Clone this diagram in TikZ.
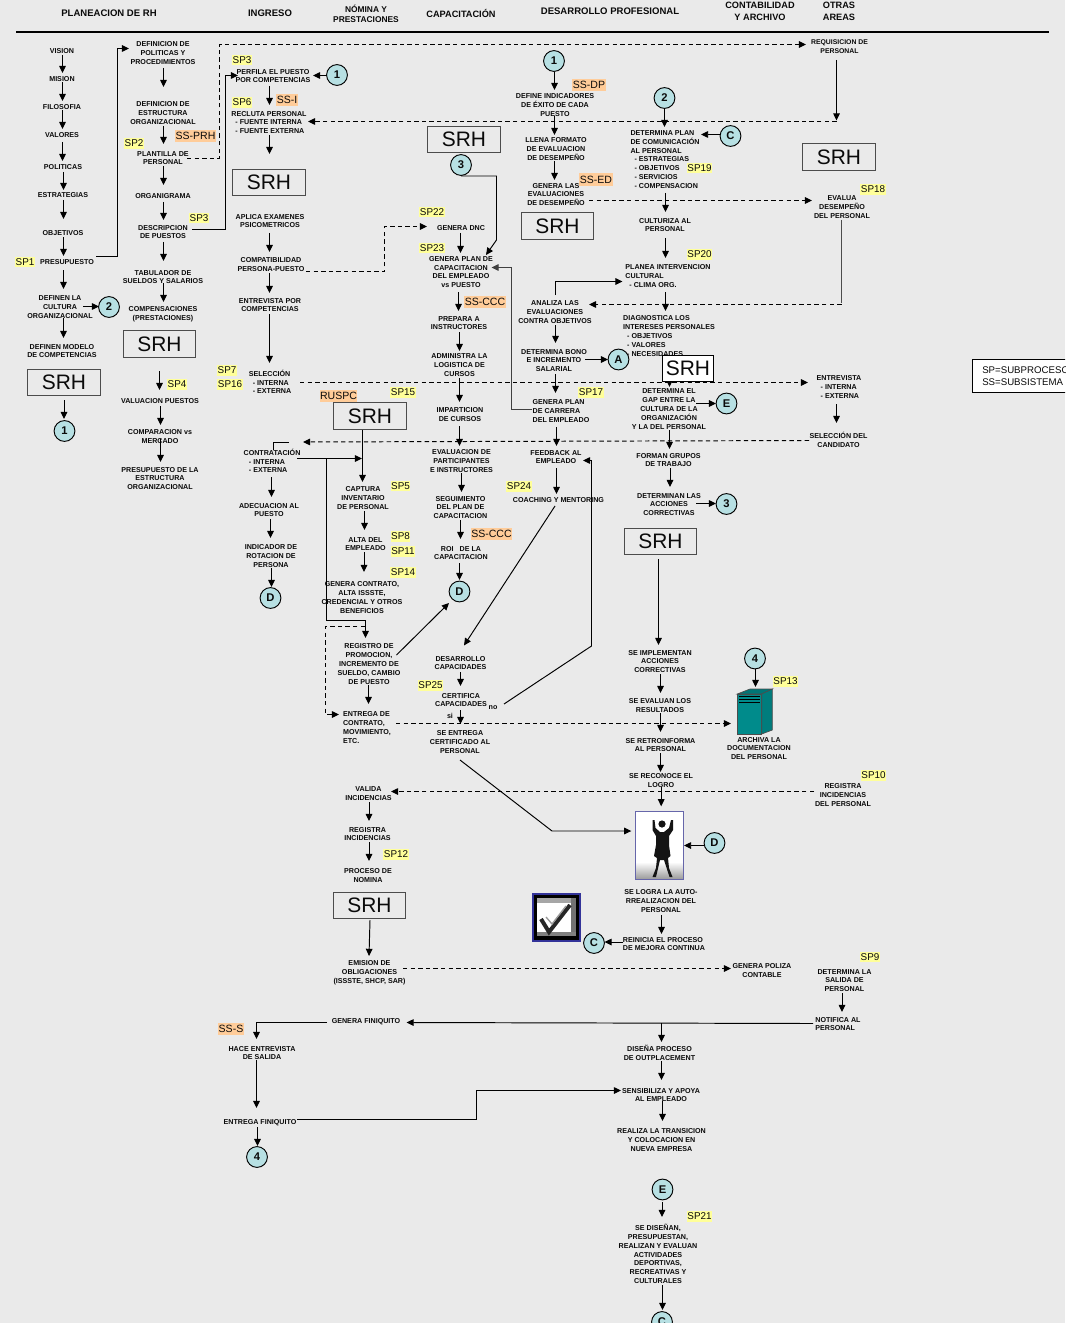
\documentclass[tikz,border=0pt]{standalone}
\usepackage{fontspec}
\setmainfont{Liberation Sans}
\usetikzlibrary{arrows.meta}
\definecolor{bgc}{HTML}{EAEAEA}
\definecolor{yel}{HTML}{FFFF99}
\definecolor{ora}{HTML}{FFCC99}
\definecolor{circ}{HTML}{B7E0E3}
\definecolor{teal2}{HTML}{008B8B}
\definecolor{ink}{HTML}{0A0A0A}
\definecolor{picb}{HTML}{6666AA}
\definecolor{chkb}{HTML}{333399}
\tikzset{
  tx/.style={font=\bfseries\fontsize{5.35}{6.6}\selectfont,align=center,inner sep=0pt,text=ink},
  txl/.style={tx,align=left},
  hd/.style={font=\bfseries\fontsize{7.15}{9}\selectfont,align=center,inner sep=0pt,text=ink},
  hds/.style={font=\bfseries\fontsize{6.3}{7.5}\selectfont,align=center,inner sep=0pt,text=ink},
  yl/.style={fill=yel,font=\fontsize{7.4}{8}\selectfont,inner xsep=0.4pt,inner ysep=0pt,minimum height=8.2pt,text=ink},
  og/.style={fill=ora,font=\fontsize{7.9}{8}\selectfont,inner xsep=0.4pt,inner ysep=0pt,minimum height=9.6pt,text=ink},
  srhbox/.style={draw=black!70,line width=.7pt,font=\fontsize{15.7}{16}\selectfont,minimum width=54.4pt,minimum height=20pt,inner sep=0pt,text=ink},
  cir/.style={circle,draw=black,fill=circ,line width=.7pt,minimum size=15.6pt,inner sep=0pt,font=\bfseries\fontsize{8.4}{9}\selectfont,text=ink},
  ln/.style={line width=.72pt,draw=black},
  ar/.style={ln,-{Triangle[length=5.4pt,width=5pt]}},
  dln/.style={ln,dash pattern=on 3.3pt off 2.4pt},
  dar/.style={dln,-{Triangle[length=5.4pt,width=5pt]}},
}
% vertical arrow from node #2 towards node #3; #1 = x offset, #4/#5 = y offsets from their centres
\newcommand\vv[5][0]{\draw[ar] ([shift={(#1,#4)}]#2.center) -- ([shift={(#1,#5)}]#2.center |- #3.center);}
% horizontal arrow from node #2 towards node #3; #1 = y offset, #4/#5 = x offsets from their centres
\newcommand\hh[5][0]{\draw[ar] ([shift={(#4,#1)}]#2.center) -- ([shift={(#5,#1)}]#2.center -| #3.center);}
\begin{document}
\begin{tikzpicture}[x=0.75pt,y=-0.75pt]
\useasboundingbox (0,0) rectangle (1065,1323);
\clip (0,0) rectangle (1065,1323);
\fill[bgc] (0,0) rectangle (1065,1323);
% headers
\node[hd] (h1) at (109,13.5) {PLANEACION DE RH};
\node[hd] (h2) at (270,13.5) {INGRESO};
\node[hds] (h3) at (366,14) {NÓMINA Y\\PRESTACIONES};
\node[hd,font=\bfseries\fontsize{6.9}{9}\selectfont] (h4) at (461,13.5) {CAPACITACIÓN};
\node[hd] (h5) at (610,11.5) {DESARROLLO PROFESIONAL};
\node[hd,font=\bfseries\fontsize{6.9}{9}\selectfont] (h6) at (760,11.5) {CONTABILIDAD\\Y ARCHIVO};
\node[hd,font=\bfseries\fontsize{6.9}{9}\selectfont] (h7) at (839,11.5) {OTRAS\\AREAS};
\draw[line width=1.1pt] (16,32) -- (1049,32);
% column 1
\node[tx] (vision) at (62,51) {VISION};
\node[tx] (mision) at (62,79) {MISION};
\node[tx] (filosofia) at (62,107) {FILOSOFIA};
\node[tx] (valores) at (62,135) {VALORES};
\node[tx] (politicas) at (63,167) {POLITICAS};
\node[tx] (estrategias) at (63,195) {ESTRATEGIAS};
\node[tx] (objetivos) at (63,233) {OBJETIVOS};
\node[tx] (presup) at (67,262) {PRESUPUESTO};
\node[tx] (cultura) at (60,307) {DEFINEN LA\\CULTURA\\ORGANIZACIONAL};
\node[tx] (modelo) at (62,351) {DEFINEN MODELO\\DE COMPETENCIAS};
\node[srhbox] (srh1) at (64,382.5) {SRH};
\node[cir] (c1a) at (64.5,431) {1};
\node[cir] (c2l) at (109,307) {2};
\vv[.5]{vision}{mision}{4}{-6}
\vv[.5]{mision}{filosofia}{3}{-6}
\vv[.5]{filosofia}{valores}{3}{-6}
\vv[.5]{valores}{politicas}{7}{-6}
\vv[.5]{politicas}{estrategias}{5}{-5}
\vv[.5]{estrategias}{objetivos}{5}{-14}
\vv[.5]{objetivos}{presup}{4}{-6}
\vv[-3.5]{presup}{cultura}{8}{-18}
\vv[3.5]{cultura}{modelo}{11}{-13}
\vv{srh1}{c1a}{17.5}{-12}
\hh[-.5]{cultura}{c2l}{23}{-10}
% column 2
\node[tx] (pol) at (163,53) {DEFINICION DE\\POLITICAS Y\\PROCEDIMIENTOS};
\node[tx] (estr) at (163,113) {DEFINICION DE\\ESTRUCTURA\\ORGANIZACIONAL};
\node[tx] (plant) at (163,158) {PLANTILLA DE\\PERSONAL};
\node[tx] (organ) at (163,196) {ORGANIGRAMA};
\node[tx] (desc) at (163,232) {DESCRIPCION\\DE PUESTOS};
\node[tx] (tab) at (163,277) {TABULADOR DE\\SUELDOS Y SALARIOS};
\node[tx] (comp) at (163,314) {COMPENSACIONES\\(PRESTACIONES)};
\node[srhbox] (srh2) at (159.5,344) {SRH};
\node[tx] (val) at (160,401) {VALUACION PUESTOS};
\node[tx] (compar) at (160,436.5) {COMPARACION vs\\MERCADO};
\node[tx] (presest) at (160,478.5) {PRESUPUESTO DE LA\\ESTRUCTURA\\ORGANIZACIONAL};
\vv[.5]{pol}{estr}{15}{-26}
\vv[.5]{estr}{plant}{13}{-14}
\vv[.5]{plant}{organ}{8}{-11}
\vv[.5]{organ}{desc}{6}{-12}
\vv[.5]{desc}{tab}{10}{-16}
\vv[.5]{tab}{comp}{6}{-12}
\vv{srh2}{val}{27}{-11}
\vv[.5]{val}{compar}{5}{-11.5}
\vv[.5]{compar}{presest}{2.5}{-16.5}
\draw[ar] ([shift={(29,-5.5)}]presup.center) -- (117.5,256.5) -- (117.5,48.5) -- ([shift={(-34,-4.5)}]pol.center);
% column 3
\node[tx] (perfila) at (273,76) {PERFILA EL PUESTO\\POR COMPETENCIAS};
\node[cir] (c1b) at (337,75) {1};
\node[txl] (recluta) at (269,122.5) {RECLUTA PERSONAL\\\hspace*{3pt}- FUENTE INTERNA\\\hspace*{3pt}- FUENTE EXTERNA};
\node[srhbox] (srh3) at (269,182.5) {SRH};
\node[tx] (aplica) at (270,221) {APLICA EXAMENES\\PSICOMETRICOS};
\node[tx] (compat) at (271,264.5) {COMPATIBILIDAD\\PERSONA-PUESTO};
\node[tx] (entrev) at (270,305) {ENTREVISTA POR\\COMPETENCIAS};
\node[txl] (sel) at (270,382) {SELECCIÓN\\\hspace*{3pt}- INTERNA\\\hspace*{3pt}- EXTERNA};
\node[txl] (contr) at (272,461) {CONTRATACIÓN\\\hspace*{4pt}- INTERNA\\\hspace*{4pt}- EXTERNA};
\node[tx] (adec) at (269,510) {ADECUACION AL\\PUESTO};
\node[tx] (indic) at (271,556) {INDICADOR DE\\ROTACION DE\\PERSONA};
\node[cir] (d2) at (270.5,598) {D};
\hh[.5]{c1b}{perfila}{-10.5}{40}
\draw[ar] ([shift={(29,-2.5)}]desc.center) -- (225.5,229.5) -- (225.5,75.5) -- ([shift={(-35,-.5)}]perfila.center);
\vv[-3.5]{perfila}{recluta}{10}{-17.5}
\vv[.5]{recluta}{srh3}{12.5}{-28.5}
\vv[-.5]{aplica}{compat}{12}{-12.5}
\vv[-1.5]{compat}{entrev}{8.5}{-12}
\vv[-.5]{entrev}{sel}{9}{-19}
\vv[-.5]{contr}{adec}{16}{-13}
\vv[1.5]{adec}{indic}{9}{-18}
\vv[.5]{indic}{d2}{12}{-11}
% column 4
\node[srhbox] (srh8) at (464,139.5) {SRH};
\node[cir] (c3a) at (461,165) {3};
\node[tx] (gdnc) at (461,228.5) {GENERA DNC};
\node[tx] (gplan) at (461,272) {GENERA PLAN DE\\CAPACITACION\\DEL EMPLEADO\\vs PUESTO};
\node[tx] (prep) at (459,323) {PREPARA A\\INSTRUCTORES};
\node[tx] (admin) at (459.5,365) {ADMINISTRA LA\\LOGISTICA DE\\CURSOS};
\node[tx] (impart) at (460,414.5) {IMPARTICION\\DE CURSOS};
\node[tx] (evalp) at (461.5,461) {EVALUACION DE\\PARTICIPANTES\\E INSTRUCTORES};
\node[tx] (seg) at (460.5,507.5) {SEGUIMIENTO\\DEL PLAN DE\\CAPACITACION};
\node[tx] (roi) at (461,553) {ROI\hspace{3pt} DE LA\\CAPACITACION};
\node[cir] (d3) at (459.5,591.5) {D};
\draw[dar] ([shift={(35,7)}]compat.center) -- (384.5,271.5) -- (384.5,226.5) -- ([shift={(-34,-2)}]gdnc.center);
\vv[-.5]{gdnc}{gplan}{4.5}{-19}
\vv[-2.5]{gplan}{prep}{20}{-12}
\vv[.5]{prep}{admin}{9}{-14}
\vv{admin}{impart}{13}{-12.5}
\vv[-.5]{impart}{evalp}{11.5}{-15}
\vv{evalp}{seg}{12}{-15.5}
\vv{seg}{roi}{12.5}{-14}
\vv[-1.5]{roi}{d3}{10}{-11.5}
\draw[ar] ([shift={(0,11)}]c3a.center) -- (496.5,176) -- (496.5,240) -- ([shift={(25,-17)}]gplan.center);
% ruspc block
\node[srhbox] (srh4) at (370,416) {SRH};
\node[tx] (capt) at (363,498) {CAPTURA\\INVENTARIO\\DE PERSONAL};
\node[tx] (alta) at (365.5,544) {ALTA DEL\\EMPLEADO};
\node[tx] (gencon) at (362,597.5) {GENERA CONTRATO,\\ALTA ISSSTE,\\CREDENCIAL Y OTROS\\BENEFICIOS};
\node[tx] (reg) at (369,664) {REGISTRO DE\\PROMOCION,\\INCREMENTO DE\\SUELDO, CAMBIO\\DE PUESTO};
\node[txl] (entrega) at (367,727.5) {ENTREGA DE\\CONTRATO,\\MOVIMIENTO,\\ETC.};
\vv[-7.5]{srh4}{capt}{14}{-16}
\vv[1.5]{capt}{alta}{13}{-14}
\vv[-1.5]{alta}{gencon}{8}{-25.5}
\vv[-.5]{reg}{entrega}{21}{-23.5}
\draw[ar] ([shift={(25,-2.5)}]contr.center) -- ([shift={(-1,-39.5)}]capt.center);
\coordinate (cb) at (326.5,458.5);
\draw[ar] (cb) -- (326.5,620.5) -- (365.5,620.5) -- ([shift={(-3.5,-26)}]reg.center);
\draw[dar] ([shift={(-4,-37.5)}]reg.center) -- (325.5,626.5) -- (325.5,714.5) -- ([shift={(-28,-13)}]entrega.center);
\draw[ar] ([shift={(27.5,-9)}]reg.center) -- ([shift={(-10.5,11.5)}]d3.center);
% desarrollo
\node[cir] (c1c) at (554,61) {1};
\node[tx] (defind) at (555,105) {DEFINE INDICADORES\\DE ÉXITO DE CADA\\PUESTO};
\node[tx] (llena) at (556,149) {LLENA FORMATO\\DE EVALUACION\\DE DESEMPEÑO};
\node[tx] (genev) at (556,194.5) {GENERA LAS\\EVALUACIONES\\DE DESEMPEÑO};
\node[srhbox] (srh9) at (557.5,226) {SRH};
\node[tx] (analiza) at (555,312) {ANALIZA LAS\\EVALUACIONES\\CONTRA OBJETIVOS};
\node[tx] (bono) at (554,360.5) {DETERMINA BONO\\E INCREMENTO\\SALARIAL};
\node[cir] (cA) at (618.5,359.5) {A};
\node[txl] (gencar) at (561,411) {GENERA PLAN\\DE CARRERA\\DEL EMPLEADO};
\node[tx] (feed) at (556,457) {FEEDBACK AL\\EMPLEADO};
\node[tx] (coach) at (558.5,500.5) {COACHING Y MENTORING};
\node[tx] (desar) at (460.5,663) {DESARROLLO\\CAPACIDADES};
\node[tx] (cert) at (461,700) {CERTIFICA\\CAPACIDADES};
\node[tx] (no) at (493,707.5) {no};
\node[tx] (si) at (450,715.5) {si};
\node[tx] (sentrega) at (460,742) {SE ENTREGA\\CERTIFICADO AL\\PERSONAL};
\vv[.5]{c1c}{defind}{11}{-15}
\vv[-.5]{defind}{llena}{11}{-14}
\vv[-1.5]{llena}{genev}{12}{-14.5}
\vv[.5]{analiza}{bono}{13}{-17.5}
\hh[-1]{bono}{cA}{31}{-10.5}
\vv[1.5]{bono}{gencar}{13.5}{-18}
\vv[-4.5]{gencar}{feed}{16}{-11}
\vv[.5]{feed}{coach}{11}{-6.5}
\draw[ar] ([shift={(-3.5,5.5)}]coach.center) -- ([shift={(3.5,-17.5)}]desar.center);
\vv{desar}{cert}{9}{-14}
\vv[-.5]{cert}{sentrega}{10}{-18}
\draw[ar] ([shift={(11,-3.5)}]no.center) -- (591.5,646) -- (591.5,460.5) -- ([shift={(27,3.5)}]feed.center);
\draw[ar,draw=black!75] ([shift={(-29,-1.5)}]gencar.center) -- (511.5,409.5) -- (511.5,267.5) -- ([shift={(30.5,-4.5)}]gplan.center);
% right column
\node[cir] (c2) at (664.5,98) {2};
\node[txl] (detplan) at (665,159.5) {DETERMINA PLAN\\DE COMUNICACIÓN\\AL PERSONAL\\\hspace*{3pt}- ESTRATEGIAS\\\hspace*{3pt}- OBJETIVOS\\\hspace*{3pt}- SERVICIOS\\\hspace*{3pt}- COMPENSACION};
\node[cir] (cC) at (730.5,136) {C};
\node[tx] (cult) at (665,225) {CULTURIZA AL\\PERSONAL};
\node[txl] (planea) at (668,276) {PLANEA INTERVENCION\\CULTURAL\\\hspace*{3pt}- CLIMA ORG.};
\node[txl] (diag) at (669,336) {DIAGNOSTICA LOS\\INTERESES PERSONALES\\\hspace*{3pt}- OBJETIVOS\\\hspace*{3pt}- VALORES\\\hspace*{3pt}- NECESIDADES};
\node[tx] (gap) at (669,409) {DETERMINA EL\\GAP ENTRE LA\\CULTURA DE LA\\ORGANIZACIÓN\\Y LA DEL PERSONAL};
\vv[.5]{diag}{gap}{21}{-22}
\node[srhbox,fill=white,draw=black,minimum width=38pt] (srh5) at (688,368.5) {SRH};
\node[cir] (cE) at (726.5,403.5) {E};
\node[tx] (forman) at (668.5,460) {FORMAN GRUPOS\\DE TRABAJO};
\node[tx] (detacc) at (669,504.5) {DETERMINAN LAS\\ACCIONES\\CORRECTIVAS};
\node[cir] (c3b) at (726.5,504) {3};
\node[srhbox] (srh6) at (660.5,541.5) {SRH};
\node[tx] (impl) at (660,661.5) {SE IMPLEMENTAN\\ACCIONES\\CORRECTIVAS};
\node[tx] (evres) at (660,705.5) {SE EVALUAN LOS\\RESULTADOS};
\node[tx] (retro) at (660.5,745) {SE RETROINFORMA\\AL PERSONAL};
\node[tx] (recon) at (661,780.5) {SE RECONOCE EL\\LOGRO};
\node[tx] (logra) at (661,901) {SE LOGRA LA AUTO-\\RREALIZACION DEL\\PERSONAL};
\node[txl] (reinicia) at (664,944) {REINICIA EL PROCESO\\DE MEJORA CONTINUA};
\node[cir] (cC2) at (594,943) {C};
\node[cir] (cD) at (714.5,843) {D};
\node[cir] (c4a) at (755,658.5) {4};
\draw[ar] ([shift={(.5,-17)}]analiza.center) -- (555.5,281.5) -- ([shift={(-45.5,5.5)}]planea.center);
\vv{c2}{detplan}{11}{-32.5}
\hh[-1.5]{cC}{detplan}{-10.5}{36}
\vv[.5]{detplan}{cult}{33.5}{-13}
\vv[.5]{cult}{planea}{13}{-18}
\vv[-2.5]{planea}{diag}{16}{-25}
\hh[-5.5]{gap}{cE}{27}{-10.5}
\vv[.5]{gap}{forman}{21}{-11}
\vv[1.5]{forman}{detacc}{8}{-17.5}
\hh[-1]{detacc}{c3b}{27}{-10.5}
\vv[-2]{srh6}{impl}{17.5}{-16.5}
\vv[.5]{impl}{evres}{12.5}{-12.5}
\vv[.5]{evres}{retro}{7.5}{-13}
\vv{retro}{recon}{8}{-8.5}
\vv[.5]{logra}{reinicia}{14}{-10}
\hh[-2]{reinicia}{cC2}{-41}{10.5}
% picture of the figure
\node[minimum width=36.4pt,minimum height=51pt,inner sep=0pt,draw=none] (pic) at (659.3,845.3) {};
\fill[white] (635,811.3) rectangle (683.7,862);
\shade[top color=white,bottom color=black!40] (635,862) rectangle (683.7,879.3);
\fill[black!92] (662,824) circle[radius=3.6];
\fill[black!92] (652.5,820) -- (654.5,820) -- (655.5,828) -- (660,832) -- (664,832) -- (669,828) -- (671,820) -- (673,820) -- (673,830) -- (669,836) -- (669,845) -- (670.5,856) -- (668,858) -- (669,868) -- (672.5,877) -- (669.5,877) -- (664,860) -- (660,860) -- (656,877) -- (652.5,877) -- (656,868) -- (657,858) -- (654,856) -- (656,845) -- (656,836) -- (652.5,830) -- cycle;
\draw[picb,line width=.7pt] (635,811.3) rectangle (683.7,879.3);
\vv[.2]{recon}{pic}{6.5}{-39}
\hh[2.5]{cD}{pic}{-10.5}{24.7}
% server
\node[minimum width=26pt,minimum height=34pt,inner sep=0pt] (srv) at (755,711.5) {};
\fill[teal2,draw=black!70,line width=.5pt] (737.3,694) -- (761.7,694) -- (761.7,734) -- (737.3,734) -- cycle;
\fill[teal2!85!black,draw=black!70,line width=.5pt] (737.3,694) -- (750,689) -- (772.3,689) -- (761.7,694) -- cycle;
\fill[teal2!90!black,draw=black!70,line width=.5pt] (761.7,694) -- (772.3,689) -- (772.3,730) -- (761.7,734) -- cycle;
\foreach \yy in {696.5,699.5,702.5} \draw[black,line width=.9pt] (739,\yy) -- (759.5,\yy);
\vv[.5]{c4a}{srv}{10.5}{-24.5}
\node[tx] (arch) at (759,748.5) {ARCHIVA LA\\DOCUMENTACION\\DEL PERSONAL};
\node[yl] (sp13) at (785.5,681.5) {SP13};
% check icon
\node[minimum width=36pt,minimum height=36pt,inner sep=0pt] (chk) at (556.7,917.5) {};
\fill[chkb] (532.3,893.3) rectangle (581,941.7);
\fill[black] (534.3,895.3) rectangle (579,939.7);
\fill[white] (537,898) rectangle (576,936);
\fill[black!35] (537,898) rectangle (576,903);
\fill[black!55] (571,898) rectangle (576,936);
\fill[black!50] (537,932) rectangle (576,936);
\draw[black!85,line width=3pt] (541,919) -- (549,932) -- (570,905);
\draw[black!40,line width=1pt] (546,917) -- (552,924) -- (566,906);
% far right
\node[tx,font=\bfseries\fontsize{5.15}{6.6}\selectfont] (req) at (839.5,47) {REQUISICION DE\\PERSONAL};
\coordinate (reqc) at (836.5,121.5);
\draw[dar] ([shift={(24,.5)}]plant.center) -- (219.5,158.5) -- (219.5,44.5) -- ([shift={(-33.5,-2.5)}]req.center);
\draw[ar] ([shift={(-3,13)}]req.center) -- ([shift={(0,-1)}]reqc);
\draw[dar] (reqc) -- ([shift={(39,-1)}]recluta.center);
\node[srhbox] (srh10) at (839,157) {SRH};
\node[tx] (evalua) at (842,207) {EVALUA\\DESEMPEÑO\\DEL PERSONAL};
\draw[dar] ([shift={(33,6)}]genev.center) -- ([shift={(-30,-6.5)}]evalua.center);
\coordinate (evc) at (841.5,304.5);
\draw[ln,draw=black!70] ([shift={(-.5,13)}]evalua.center) -- ([shift={(0,-2)}]evc);
\draw[dar] (evc) -- ([shift={(34,-7.5)}]analiza.center);
\node[txl] (entr) at (839,387) {ENTREVISTA\\\hspace*{3pt}- INTERNA\\\hspace*{3pt}- EXTERNA};
\node[tx] (selc) at (838.5,439.5) {SELECCIÓN DEL\\CANDIDATO};
\vv[-2.5]{entr}{selc}{17}{-16.5}
\draw[dar] ([shift={(30,.5)}]sel.center) -- ([shift={(-31,-4.5)}]entr.center);
\draw[dar] ([shift={(-29.5,1)}]selc.center) -- ([shift={(31,-19)}]contr.center);
\draw[ln] ([shift={(16.5,-18.5)}]contr.center) -- ([shift={(1.5,-18.5)}]contr.center) -- ([shift={(1.5,-11)}]contr.center);
\draw[dar] ([shift={(29,-4)}]entrega.center) -- ([shift={(-24,12)}]srv.center);
\draw[ar] ([shift={(0,18)}]sentrega.center) -- (552,831) -- ([shift={(-28,-14.3)}]pic.center);
\node[tx] (regin) at (843,795) {REGISTRA\\INCIDENCIAS\\DEL PERSONAL};
\node[tx] (valida) at (368.5,793.5) {VALIDA\\INCIDENCIAS};
\node[tx] (regi) at (367.5,834) {REGISTRA\\INCIDENCIAS};
\node[tx] (proc) at (368,875.5) {PROCESO DE\\NOMINA};
\node[srhbox] (srh7) at (369.5,905.5) {SRH};
\node[tx] (emis) at (369.5,973) {EMISION DE\\OBLIGACIONES\\(ISSSTE, SHCP, SAR)};
\node[tx] (poliza) at (762,970.5) {GENERA POLIZA\\CONTABLE};
\node[tx] (detsal) at (844.5,980.5) {DETERMINA LA\\SALIDA DE\\PERSONAL};
\node[txl] (notif) at (838,1024) {NOTIFICA AL\\PERSONAL};
\node[tx] (genfin) at (366,1022) {GENERA FINIQUITO};
\node[tx] (hace) at (262,1053) {HACE ENTREVISTA\\DE SALIDA};
\node[tx] (entf) at (260,1122.5) {ENTREGA FINIQUITO};
\node[cir] (c4b) at (257,1157) {4};
\node[tx] (disena) at (659.5,1052.5) {DISEÑA PROCESO\\DE OUTPLACEMENT};
\node[tx] (sens) at (661,1095) {SENSIBILIZA Y APOYA\\AL EMPLEADO};
\node[tx] (realiza) at (661.5,1140) {REALIZA LA TRANSICION\\Y COLOCACION EN\\NUEVA EMPRESA};
\node[cir] (ce) at (662.5,1189.5) {E};
\node[tx] (disenan) at (658,1254) {SE DISEÑAN,\\PRESUPUESTAN,\\REALIZAN Y EVALUAN\\ACTIVIDADES\\DEPORTIVAS,\\RECREATIVAS Y\\CULTURALES};
\node[cir] (cc) at (662,1322) {C};
\draw[dar] ([shift={(-29,-3.5)}]regin.center) -- ([shift={(22.5,-2)}]valida.center);
\vv[.5]{valida}{regi}{8.5}{-13}
\vv[1.5]{regi}{proc}{8}{-14.5}
\draw[ar] ([shift={(.5,14.5)}]srh7.center) -- ([shift={(-.5,-17)}]emis.center);
\draw[dar] ([shift={(33.5,-4.5)}]emis.center) -- ([shift={(-31,-2)}]poliza.center);
\vv[-2.5]{detsal}{notif}{12.5}{-12}
\draw[ar] ([shift={(-25,-.5)}]notif.center) -- ([shift={(40.5,0.5)}]genfin.center);
\coordinate (junc) at (661.5,1023);
\draw[ar] (junc) -- ([shift={(0,-10.5)}]junc |- disena.center);
\draw[ar] ([shift={(-39,.5)}]genfin.center) -- (256.5,1022.5) -- ([shift={(-5.5,-14)}]hace.center);
\vv[-5.5]{hace}{entf}{7}{-14.5}
\vv[-2.5]{entf}{c4b}{4.5}{-11}
\draw[ar] ([shift={(37,-3)}]entf.center) -- (476.5,1119.5) -- (476.5,1090.5) -- ([shift={(-40,-4.5)}]sens.center);
\vv[2]{disena}{sens}{8.5}{-15}
\vv[1.5]{sens}{realiza}{6}{-19}
\vv[-.5]{ce}{disenan}{12.5}{-37}
\vv[4.5]{disenan}{cc}{31}{-12}
% tags
\node[yl] (sp1) at (25,262) {SP1};
\node[yl] (sp2) at (134,143.5) {SP2};
\node[og] (sspr) at (195.5,136) {SS-PRH};
\node[yl] (sp3a) at (242,60) {SP3};
\node[yl] (sp3b) at (199,218) {SP3};
\node[yl] (sp6) at (242,102.5) {SP6};
\node[og] (ssi) at (287,100) {SS-I};
\node[yl] (sp7) at (227,370.5) {SP7};
\node[yl] (sp16) at (230,384.5) {SP16};
\node[yl] (sp4) at (177,384.5) {SP4};
\node[og] (ruspc) at (338.5,396) {RUSPC};
\node[yl] (sp15) at (403,392.5) {SP15};
\node[yl] (sp22) at (432,212) {SP22};
\node[yl] (sp23) at (432,248) {SP23};
\node[og] (ssc1) at (485,302) {SS-CCC};
\node[og] (ssc2) at (491.5,534) {SS-CCC};
\node[yl] (sp5) at (400.5,486) {SP5};
\node[yl] (sp8) at (400.5,536.5) {SP8};
\node[yl] (sp11) at (403,551.5) {SP11};
\node[yl] (sp14) at (403,572.5) {SP14};
\node[og] (ssdp) at (589,85) {SS-DP};
\node[og] (ssed) at (596,179.5) {SS-ED};
\node[yl] (sp17) at (591,392.5) {SP17};
\node[yl] (sp24) at (519,486.5) {SP24};
\node[yl] (sp25) at (430.5,685.5) {SP25};
\node[yl] (sp18) at (873,189.5) {SP18};
\node[yl] (sp19) at (699.5,168) {SP19};
\node[yl] (sp20) at (699.5,254.5) {SP20};
\node[yl] (sp10) at (873.5,775.5) {SP10};
\node[yl] (sp12) at (396,854.5) {SP12};
\node[yl] (sp9) at (870,957) {SP9};
\node[og] (sss) at (231,1029) {SS-S};
\node[yl] (sp21) at (699.5,1216.5) {SP21};
% legend
\node[draw=black,fill=white,line width=.6pt,minimum width=75pt,minimum height=24.7pt,inner sep=0pt] (legb) at (1022.5,375.8) {};
\node[font=\fontsize{7.25}{9}\selectfont,align=left,anchor=west,inner sep=0pt,text=ink] (leg) at (982,376.5) {SP=SUBPROCESO\\SS=SUBSISTEMA};
\end{tikzpicture}
\end{document}
